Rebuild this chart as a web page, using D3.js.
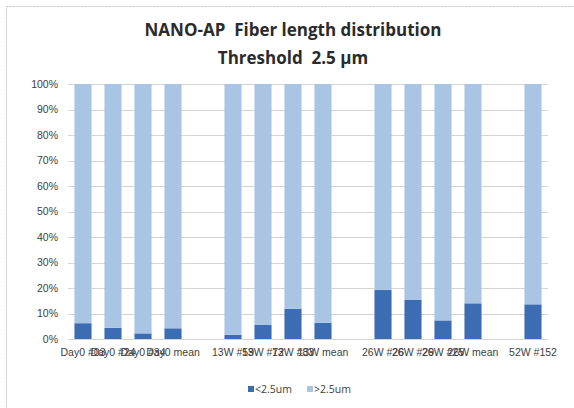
<!DOCTYPE html>
<html>
<head>
<meta charset="utf-8">
<script src="https://cdn.jsdelivr.net/npm/d3@7"></script>
<style>
	body { margin: 0; background: #fff; }
	svg { display: block; font-family: "Open Sans", "Noto Sans", sans-serif; }
	.tick-label { font-size: 10.5px; fill: #404040; }
	.title { font-size: 17px; font-weight: bold; fill: #2b2b2b; }
	.legend-text { font-size: 10.5px; fill: #404040; }
</style>
</head>
<body>
<div id="chart"></div>
<script>

var categories = ["Day0 #03", "Day0 #24", "Day0 #34", "Day0 mean", "",
		"13W #59", "13W #72", "13W #83", "13W mean", "",
		"26W #26", "26W #29", "26W #25", "26W mean", "",
		"52W #152"],
	shortShare = [6.2, 4.4, 2.2, 4.2, null,
		1.6, 5.5, 11.9, 6.4, null,
		19.2, 15.3, 7.3, 14.0, null,
		13.6],
	seriesNames = ["<2.5um", ">2.5um"],
	yTicks = [0, 10, 20, 30, 40, 50, 60, 70, 80, 90, 100];

var width = 574,
	height = 408,
	margin = {left: 68, right: 26, top: 84, bottom: 69};

var colors = ["#3c6db3", "#a9c5e3"];

var svg = d3.select("#chart").append("svg")
	.attr("width", width)
	.attr("height", height);

//Frame round the chart area
svg.append("rect")
	.attr("x", 6.5)
	.attr("y", 6.5)
	.attr("width", width + 20)
	.attr("height", height + 20)
	.style("fill", "none")
	.style("stroke", "#c4c4c4")
	.style("stroke-dasharray", "2,1");

/////////////////////// Scales //////////////////////////

var x = d3.scaleBand()
	.domain(d3.range(categories.length))
	.range([margin.left, width - margin.right])
	.paddingInner(0.43)
	.paddingOuter(0.215);

var y = d3.scaleLinear()
	.domain([0, 100])
	.range([height - margin.bottom, margin.top]);

/////////////////////// Grid & axes //////////////////////////

svg.append("g")
	.attr("class", "grid")
	.selectAll("line")
	.data(yTicks)
	.enter().append("line")
	.attr("x1", x.range()[0])
	.attr("x2", x.range()[1])
	.attr("y1", function(d) { return Math.round(y(d)) + 0.5; })
	.attr("y2", function(d) { return Math.round(y(d)) + 0.5; })
	.style("stroke", "#d4d4d4")
	.style("stroke-width", 1);

var yAxis = svg.append("g")
	.attr("transform", "translate(" + (margin.left - 6) + ",0)")
	.call(d3.axisLeft(y).tickValues(yTicks).tickSize(0).tickPadding(4).tickFormat(function(d) { return d + "%"; }));
yAxis.select(".domain").remove();
yAxis.selectAll("text").attr("class", "tick-label").attr("font-family", null).attr("font-size", null);

//Category labels are wider than a band, so they run into each other as in the original
var xAxis = svg.append("g")
	.attr("transform", "translate(0," + (height - margin.bottom) + ")")
	.call(d3.axisBottom(x).tickSize(0).tickPadding(10).tickFormat(function(i) { return categories[i]; }));
xAxis.select(".domain").remove();
xAxis.selectAll("text").attr("class", "tick-label").attr("font-family", null).attr("font-size", null);

/////////////////////// Bars //////////////////////////

var rows = [];
categories.forEach(function(c, i) {
	if (shortShare[i] === null) return;
	rows.push({index: i, "<2.5um": shortShare[i], ">2.5um": 100 - shortShare[i]});
});

var stacked = d3.stack().keys(seriesNames)(rows);

svg.append("g")
	.selectAll("g")
	.data(stacked)
	.enter().append("g")
	.style("fill", function(d, i) { return colors[i]; })
	.selectAll("rect")
	.data(function(d) { return d; })
	.enter().append("rect")
	.attr("x", function(d) { return x(d.data.index); })
	.attr("width", x.bandwidth())
	.attr("y", function(d) { return y(d[1]); })
	.attr("height", function(d) { return y(d[0]) - y(d[1]); });

/////////////////////// Title //////////////////////////

var title = svg.append("text")
	.attr("class", "title")
	.attr("x", 293)
	.attr("y", 36)
	.style("text-anchor", "middle");
title.append("tspan").attr("x", 293).text("NANO-AP\u00a0 Fiber length distribution");
title.append("tspan").attr("x", 293).attr("dy", 28).text("Threshold\u00a0 2.5 \u00b5m");

/////////////////////// Legend //////////////////////////

var legendX = [248, 307];
var legend = svg.append("g")
	.selectAll("g")
	.data(seriesNames)
	.enter().append("g")
	.attr("transform", function(d, i) { return "translate(" + legendX[i] + "," + 389 + ")"; });
legend.append("rect")
	.attr("x", 0)
	.attr("y", -3)
	.attr("width", 6)
	.attr("height", 6)
	.style("fill", function(d, i) { return colors[i]; });
legend.append("text")
	.attr("class", "legend-text")
	.attr("x", 7)
	.attr("dy", "0.35em")
	.text(function(d) { return d; });

</script>
</body>
</html>
